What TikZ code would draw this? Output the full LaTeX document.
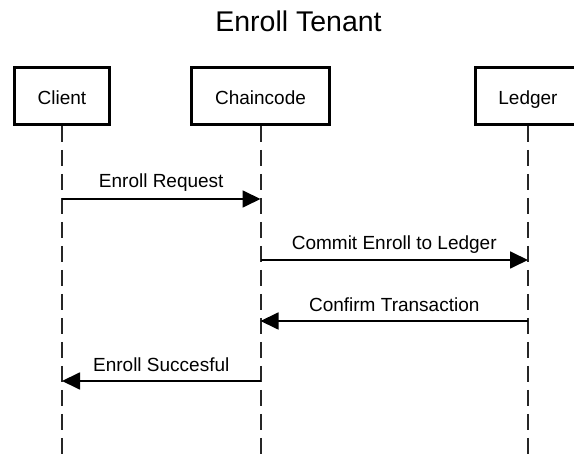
\documentclass[tikz,border=0pt]{standalone}
\usepackage{fontspec}
\setmainfont{Liberation Sans}
\usetikzlibrary{arrows.meta,calc}
\begin{document}
\begin{tikzpicture}[x=1pt,y=-1pt,
  actor/.style={draw=black, line width=3pt, minimum height=57pt, inner sep=0pt,
    text height=18pt, text depth=0pt, font=\fontsize{19}{23}\selectfont},
  lifeline/.style={draw=black!85, line width=2pt, dash pattern=on 16pt off 8pt},
  msg/.style={draw=black, line width=1.8pt, -{Triangle[length=18pt,width=17pt]}},
  msglabel/.style={font=\fontsize{19}{23}\selectfont, anchor=base, inner sep=0pt}]
\useasboundingbox (0,0) rectangle (574,454);
\clip (0,0) rectangle (574,454);

% title
\node[font=\fontsize{28.5}{34}\selectfont, anchor=base, inner sep=0pt] (title) at (298.5,31.5) {Enroll Tenant};

% participants
\node[actor, minimum width=95pt]  (client) at (62,96)    {Client};
\node[actor, minimum width=138pt] (chain)  at (260.5,96) {Chaincode};
\node[actor, minimum width=105pt] (ledger) at (528,96)   {Ledger};

% lifelines
\coordinate (clientEnd) at (client |- 0,460);
\coordinate (chainEnd)  at (chain  |- 0,460);
\coordinate (ledgerEnd) at (ledger |- 0,460);
\draw[lifeline] (client.south) -- (clientEnd);
\draw[lifeline] (chain.south)  -- (chainEnd);
\draw[lifeline] (ledger.south) -- (ledgerEnd);

% message anchor points on the lifelines
\coordinate (m1a) at (client |- 0,199);
\coordinate (m1b) at (chain  |- 0,199);
\coordinate (m2a) at (chain  |- 0,260);
\coordinate (m2b) at (ledger |- 0,260);
\coordinate (m3a) at (ledger |- 0,321);
\coordinate (m3b) at (chain  |- 0,321);
\coordinate (m4a) at (chain  |- 0,381);
\coordinate (m4b) at (client |- 0,381);

% messages
\draw[msg] (m1a) -- (m1b);
\draw[msg] (m2a) -- (m2b);
\draw[msg] (m3a) -- (m3b);
\draw[msg] (m4a) -- (m4b);

% message labels
\node[msglabel] (l1) at ([yshift=11pt]$(m1a)!0.5!(m1b)$) {Enroll Request};
\node[msglabel] (l2) at ([yshift=10pt]$(m2a)!0.5!(m2b)$) {Commit Enroll to Ledger};
\node[msglabel] (l3) at ([yshift=9pt]$(m3a)!0.5!(m3b)$) {Confirm Transaction};
\node[msglabel] (l4) at ([yshift=9pt]$(m4a)!0.5!(m4b)$) {Enroll Succesful};
\end{tikzpicture}
\end{document}
